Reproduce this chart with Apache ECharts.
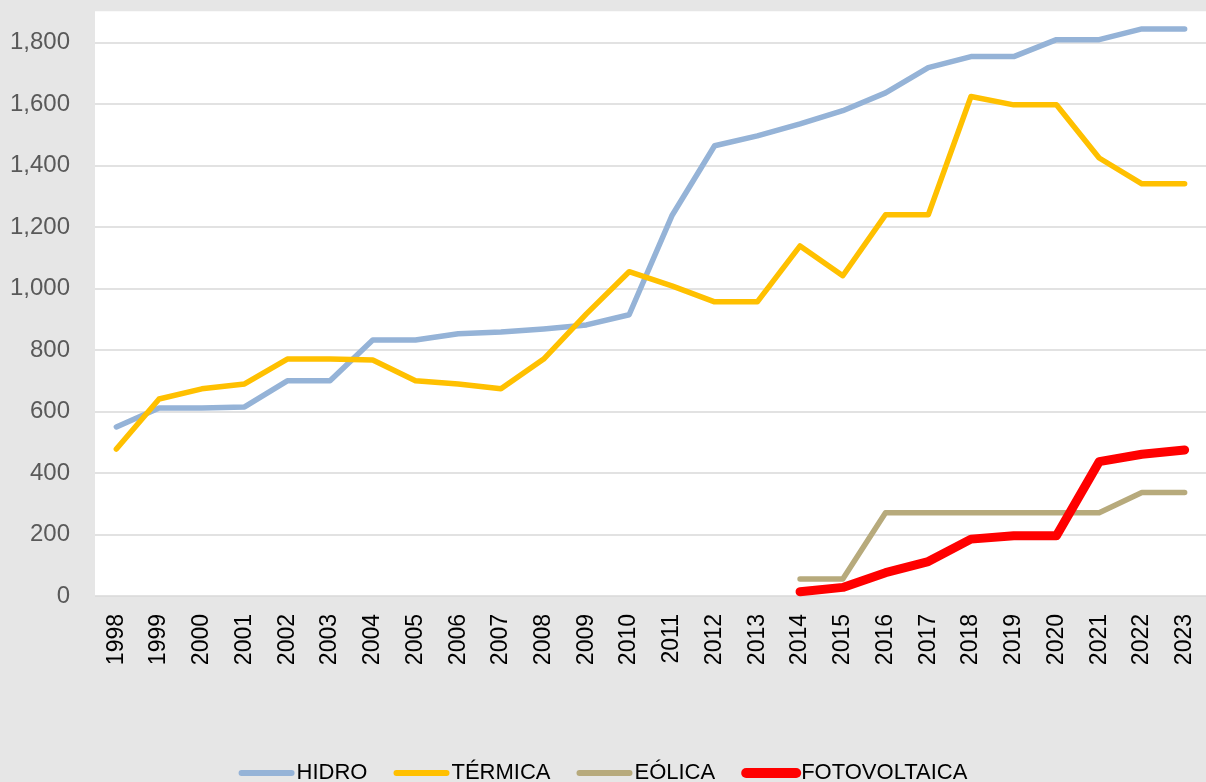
<!DOCTYPE html>
<html><head><meta charset="utf-8">
<script src="https://cdn.jsdelivr.net/npm/echarts@6/dist/echarts.min.js"></script>
<style>html,body{margin:0;padding:0;background:#e6e6e6;}#c{width:1206px;height:782px;}</style>
</head><body><div id="c"></div>
<script>
const years = ['1998','1999','2000','2001','2002','2003','2004','2005','2006','2007','2008','2009','2010','2011','2012','2013','2014','2015','2016','2017','2018','2019','2020','2021','2022','2023'];
const hidro = [550,612,612,615,700,700,833,833,853,859,869,882,915,1237,1465,1497,1536,1579,1637,1719,1755,1755,1810,1810,1845,1845];
const termica = [478,641,674,690,771,771,768,700,690,674,771,918,1055,1009,957,957,1139,1042,1240,1240,1625,1598,1598,1425,1341,1341];
const eolica = [null,null,null,null,null,null,null,null,null,null,null,null,null,null,null,null,55,55,271,271,271,271,271,271,337,337];
const fotovoltaica = [null,null,null,null,null,null,null,null,null,null,null,null,null,null,null,null,14,28,76,112,185,196,196,437,461,475];
const yTicks = [0,200,400,600,800,1000,1200,1400,1600,1800];

const font = '"Liberation Sans", Arial, sans-serif';
const chart = echarts.init(document.getElementById('c'));
const gridColors = yTicks.map(()=> '#d9d9d9').concat(['#ffffff']);
function mk(name, data, color, width){
  return {name, type:'line', data, symbol:'none', connectNulls:false,
    lineStyle:{color, width, cap:'round', join:'round'}, itemStyle:{color}, animation:false};
}
chart.setOption({
  backgroundColor:'#e6e6e6',
  animation:false,
  grid:{left:95, right:0, top:12, bottom:186, show:true, backgroundColor:'#ffffff', borderWidth:0, containLabel:false},
  xAxis:{type:'category', data:years, boundaryGap:true,
    axisLine:{show:false}, axisTick:{show:false},
    axisLabel:{rotate:90, color:'#000', fontSize:23, fontFamily:font, margin:18, interval:0}},
  yAxis:{type:'value', min:0, max:1900, interval:200,
    axisLine:{show:false}, axisTick:{show:false},
    axisLabel:{color:'#595959', fontSize:24, fontFamily:font, margin:25, showMaxLabel:false,
      formatter:v=> yTicks.includes(v) ? v.toLocaleString('en-US') : ''},
    splitLine:{lineStyle:{color:gridColors, width:1.5}}},
  legend:{top:762, left:'center', itemWidth:50, itemHeight:14, itemGap:26, padding:0,
    itemStyle:{opacity:0},
    textStyle:{color:'#000', fontSize:22, fontFamily:font, padding:[0,0,0,0]},
    data:[
      {name:'HIDRO', lineStyle:{width:6, cap:'round'}},
      {name:'TÉRMICA', lineStyle:{width:6, cap:'round'}},
      {name:'EÓLICA', lineStyle:{width:6, cap:'round'}},
      {name:'FOTOVOLTAICA', lineStyle:{width:10, cap:'round'}}
    ]},
  series:[
    mk('HIDRO', hidro, '#95b3d7', 5.5),
    mk('TÉRMICA', termica, '#ffc000', 5.5),
    mk('EÓLICA', eolica, '#b7aa7c', 5.5),
    mk('FOTOVOLTAICA', fotovoltaica, '#ff0000', 9)
  ]
});
</script></body></html>
